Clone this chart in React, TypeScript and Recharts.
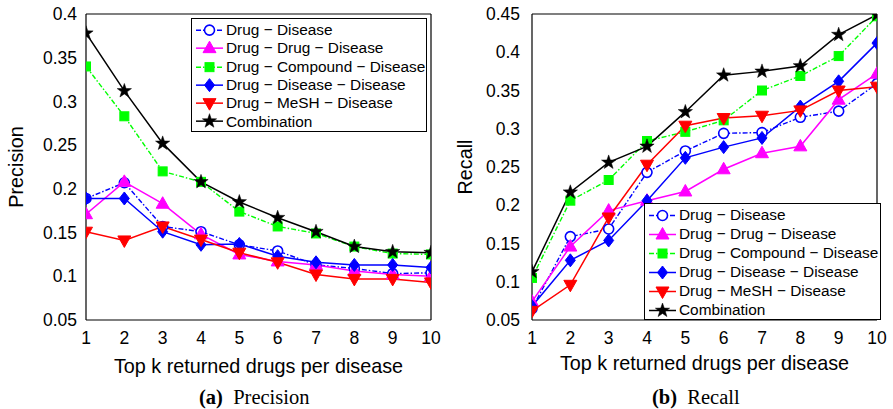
import { LineChart, Line, XAxis, YAxis, Legend } from "recharts"

// top k returned drugs per disease
const K = [1, 2, 3, 4, 5, 6, 7, 8, 9, 10]

// precision per method
const P_DRUG_DISEASE = [0.189, 0.207, 0.157, 0.151, 0.136, 0.129, 0.113, 0.109, 0.103, 0.104]
const P_DRUG_DRUG = [0.171, 0.208, 0.183, 0.148, 0.125, 0.117, 0.113, 0.106, 0.102, 0.1]
const P_COMPOUND = [0.34, 0.283, 0.22, 0.208, 0.174, 0.157, 0.149, 0.134, 0.126, 0.125]
const P_DIS_DIS = [0.189, 0.189, 0.151, 0.136, 0.137, 0.123, 0.116, 0.113, 0.113, 0.11]
const P_MESH = [0.151, 0.141, 0.157, 0.142, 0.127, 0.116, 0.102, 0.097, 0.097, 0.093]
const P_COMBO = [0.378, 0.312, 0.252, 0.208, 0.185, 0.167, 0.151, 0.134, 0.128, 0.127]

// recall per method
const R_DRUG_DISEASE = [0.065, 0.159, 0.169, 0.243, 0.271, 0.294, 0.295, 0.315, 0.323, 0.359]
const R_DRUG_DRUG = [0.074, 0.146, 0.193, 0.206, 0.218, 0.247, 0.268, 0.277, 0.338, 0.372]
const R_COMPOUND = [0.105, 0.206, 0.233, 0.284, 0.296, 0.311, 0.35, 0.369, 0.395, 0.447]
const R_DIS_DIS = [0.068, 0.128, 0.154, 0.206, 0.262, 0.276, 0.288, 0.329, 0.362, 0.412]
const R_MESH = [0.062, 0.096, 0.184, 0.253, 0.304, 0.314, 0.317, 0.324, 0.35, 0.355]
const R_COMBO = [0.113, 0.217, 0.256, 0.277, 0.322, 0.37, 0.375, 0.382, 0.423, 0.449]

const P_TICKS = [0.05, 0.1, 0.15, 0.2, 0.25, 0.3, 0.35, 0.4]
const R_TICKS = [0.05, 0.1, 0.15, 0.2, 0.25, 0.3, 0.35, 0.4, 0.45]

const FONT = "'Liberation Sans', Arial, Helvetica, sans-serif"
const DASHDOT = "5 2 1.5 2"

type Marker = "circle" | "triUp" | "square" | "diamond" | "triDown" | "star"

const SERIES: { key: string; name: string; color: string; dash?: string; marker: Marker }[] = [
  { key: "dd", name: "Drug − Disease", color: "#0000ff", dash: DASHDOT, marker: "circle" },
  { key: "ddd", name: "Drug − Drug − Disease", color: "#ff00ff", marker: "triUp" },
  { key: "dcd", name: "Drug − Compound − Disease", color: "#00ff00", dash: DASHDOT, marker: "square" },
  { key: "dsd", name: "Drug − Disease − Disease", color: "#0000ff", marker: "diamond" },
  { key: "dmd", name: "Drug − MeSH − Disease", color: "#ff0000", marker: "triDown" },
  { key: "combo", name: "Combination", color: "#000000", marker: "star" },
]

const precisionData = K.map((k, i) => ({
  k, dd: P_DRUG_DISEASE[i], ddd: P_DRUG_DRUG[i], dcd: P_COMPOUND[i],
  dsd: P_DIS_DIS[i], dmd: P_MESH[i], combo: P_COMBO[i],
}))

const recallData = K.map((k, i) => ({
  k, dd: R_DRUG_DISEASE[i], ddd: R_DRUG_DRUG[i], dcd: R_COMPOUND[i],
  dsd: R_DIS_DIS[i], dmd: R_MESH[i], combo: R_COMBO[i],
}))

function starPath(cx: number, cy: number, R: number, r: number) {
  let d = ""
  for (let i = 0; i < 10; i++) {
    const rad = i % 2 === 0 ? R : r
    const a = -Math.PI / 2 + (i * Math.PI) / 5
    d += (i === 0 ? "M" : "L") + (cx + rad * Math.cos(a)).toFixed(2) + "," + (cy + rad * Math.sin(a)).toFixed(2)
  }
  return d + "Z"
}

function markerShape(m: Marker, color: string, cx: number, cy: number, key?: any) {
  switch (m) {
    case "circle":
      return <circle key={key} cx={cx} cy={cy} r={5} fill="#fff" stroke={color} strokeWidth={1.6} />
    case "triUp":
      return <path key={key} d={`M${cx},${cy - 7}L${cx + 6.5},${cy + 4.5}L${cx - 6.5},${cy + 4.5}Z`} fill={color} stroke={color} />
    case "square":
      return <rect key={key} x={cx - 4.5} y={cy - 4.5} width={9} height={9} fill={color} stroke={color} />
    case "diamond":
      return <path key={key} d={`M${cx},${cy - 6.5}L${cx + 5},${cy}L${cx},${cy + 6.5}L${cx - 5},${cy}Z`} fill={color} stroke={color} />
    case "triDown":
      return <path key={key} d={`M${cx - 6.5},${cy - 4.5}L${cx + 6.5},${cy - 4.5}L${cx},${cy + 7}Z`} fill={color} stroke={color} />
    default:
      return <path key={key} d={starPath(cx, cy, 7.5, 3)} fill={color} stroke={color} strokeWidth={0.5} />
  }
}

function LegendBox({ rowH, padTop, width, height }: { rowH: number; padTop: number; width: number; height: number }) {
  return (
    <div
      style={{
        boxSizing: "border-box", width, height, border: "1px solid #000", background: "#fff",
        paddingTop: padTop, fontFamily: FONT, fontSize: 15.4, color: "#000",
      }}
    >
      {SERIES.map((s) => (
        <div key={s.key} style={{ display: "flex", alignItems: "center", height: rowH, whiteSpace: "nowrap" }}>
          <svg width={33} height={rowH} style={{ flex: "none" }}>
            <line x1={4} x2={31} y1={rowH / 2} y2={rowH / 2} stroke={s.color} strokeWidth={1.5} strokeDasharray={s.dash} />
            {markerShape(s.marker, s.color, 17.5, rowH / 2)}
          </svg>
          <span style={{ marginLeft: 1 }}>{s.name}</span>
        </div>
      ))}
    </div>
  )
}

function Panel(props: {
  data: any[]; ticks: number[]; domain: [number, number]; yLabel: string; width: number
  yWidth: number; right: number; yLabelOffset: number; xLabelOffset: number; tickMargin: number
  legend: { left: number; top: number; width: number; height: number; rowH: number; padTop: number }
}) {
  const { data, ticks, domain, yLabel, width, yWidth, right, legend } = props
  const tickStyle = { fontSize: 17.5, fill: "#000", fontFamily: FONT }
  return (
    <LineChart width={width} height={380} data={data} margin={{ top: 14, right, bottom: 0, left: 0 }}>
      <XAxis
        xAxisId="b" dataKey="k" type="number" domain={[1, 10]} ticks={K} allowDataOverflow
        height={60} tickLine={false} tickSize={6} tickMargin={6} tick={tickStyle}
        axisLine={{ stroke: "#000", strokeWidth: 1.2 }}
        label={{ value: "Top k returned drugs per disease", position: "insideBottom", offset: props.xLabelOffset, style: { fontSize: 19.8, fill: "#000", fontFamily: FONT } }}
      />
      <XAxis xAxisId="bi" dataKey="k" type="number" domain={[1, 10]} ticks={K} allowDataOverflow mirror tick={false} tickSize={4} axisLine={false} tickLine={{ stroke: "#000" }} />
      <XAxis xAxisId="t" orientation="top" dataKey="k" type="number" domain={[1, 10]} ticks={K} allowDataOverflow mirror tick={false} tickSize={4} axisLine={{ stroke: "#000", strokeWidth: 1.2 }} tickLine={{ stroke: "#000" }} />
      <YAxis
        yAxisId="l" type="number" domain={domain} ticks={ticks} allowDataOverflow width={yWidth}
        tickLine={false} tickSize={6} tickMargin={props.tickMargin} tick={tickStyle} tickFormatter={(v) => String(v)}
        axisLine={{ stroke: "#000", strokeWidth: 1.2 }}
        label={{ value: yLabel, angle: -90, position: "insideLeft", offset: props.yLabelOffset, style: { fontSize: 19.8, fill: "#000", fontFamily: FONT, textAnchor: "middle" } }}
      />
      <YAxis yAxisId="li" type="number" domain={domain} ticks={ticks} allowDataOverflow mirror tick={false} tickSize={4} axisLine={false} tickLine={{ stroke: "#000" }} />
      <YAxis yAxisId="r" orientation="right" type="number" domain={domain} ticks={ticks} allowDataOverflow mirror tick={false} tickSize={4} axisLine={{ stroke: "#000", strokeWidth: 1.2 }} tickLine={{ stroke: "#000" }} />
      {SERIES.map((s) => (
        <Line
          key={s.key} xAxisId="b" yAxisId="l" dataKey={s.key} name={s.name} type="linear"
          stroke={s.color} strokeWidth={s.dash ? 1.4 : 1.5} strokeDasharray={s.dash}
          dot={(p: any) => markerShape(s.marker, s.color, p.cx, p.cy, p.index)}
          activeDot={false} isAnimationActive={false}
        />
      ))}
      <Legend
        layout="vertical" align="center" verticalAlign="middle"
        wrapperStyle={{ left: legend.left, top: legend.top, width: legend.width, height: legend.height }}
        content={() => <LegendBox rowH={legend.rowH} padTop={legend.padTop} width={legend.width} height={legend.height} />}
      />
    </LineChart>
  )
}

const captionStyle: React.CSSProperties = {
  position: "absolute", top: 385, fontFamily: "'Liberation Serif', 'Times New Roman', serif",
  fontSize: 20.5, lineHeight: "24px", color: "#000", whiteSpace: "nowrap",
}

export default function App() {
  return (
    <div style={{ position: "absolute", left: 0, top: 0, width: 893, height: 409, background: "#fff", overflow: "hidden" }}>
      <div style={{ position: "absolute", left: 0, top: 0 }}>
        <Panel
          data={precisionData} ticks={P_TICKS} domain={[0.05, 0.4]} yLabel="Precision"
          width={446} yWidth={86} right={15} yLabelOffset={16} xLabelOffset={7} tickMargin={3}
          legend={{ left: 191, top: 18, width: 236, height: 114, rowH: 18.3, padTop: 2 }}
        />
      </div>
      <div style={{ position: "absolute", left: 443, top: 0 }}>
        <Panel
          data={recallData} ticks={R_TICKS} domain={[0.05, 0.45]} yLabel="Recall"
          width={450} yWidth={89} right={16} yLabelOffset={22} xLabelOffset={10} tickMargin={6}
          legend={{ left: 201, top: 203, width: 237, height: 117, rowH: 19, padTop: 1.5 }}
        />
      </div>
      <div style={{ ...captionStyle, left: 199 }}>
        <b>(a)</b>&nbsp; Precision
      </div>
      <div style={{ ...captionStyle, left: 652 }}>
        <b>(b)</b>&nbsp; Recall
      </div>
    </div>
  )
}
